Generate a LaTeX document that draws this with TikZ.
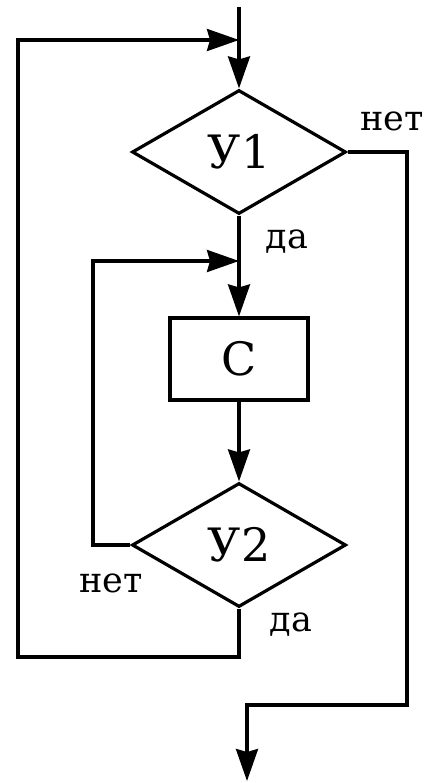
\documentclass[tikz,border=0pt]{standalone}
\usepackage{fontspec}
\setmainfont{DejaVu Serif}
\usetikzlibrary{shapes.geometric,arrows.meta}
\begin{document}
\begin{tikzpicture}[x=1pt,y=-1pt,
  line width=3.2pt,
  flow/.style={-{Stealth[length=32pt,width=22pt,inset=3pt]}},
  dec/.style={draw,diamond,minimum width=214pt,minimum height=124pt,inner sep=0pt,font=\fontsize{46}{50}\selectfont},
  proc/.style={draw,rectangle,minimum width=138pt,minimum height=82pt,inner sep=0pt,font=\fontsize{46}{50}\selectfont},
  lbl/.style={inner sep=0pt,font=\fontsize{35}{40}\selectfont}]
\useasboundingbox (0,0) rectangle (432,783);
\node[dec] (d1) at (239,152) {У1};
\node[proc] (c) at (239,359) {С};
\node[dec] (d2) at (239,545) {У2};
\coordinate (start) at (239,7);
\coordinate (top) at (239,40);
\coordinate (mid) at (239,261);
\coordinate (endp) at (247,781);
% main flow
\draw[flow] (start) -- (d1.north);
\draw[flow] (d1.south) -- (c.north);
\draw[flow] (c.south) -- (d2.north);
% outer loop (У2 да)
\coordinate (ob1) at (239,657);
\coordinate (ob2) at (18,657);
\coordinate (ob3) at (18,40);
\draw[flow] (d2.south) -- (ob1) -- (ob2) -- (ob3) -- (top);
% inner loop (У2 нет)
\coordinate (ib1) at (93,545);
\coordinate (ib2) at (93,261);
\draw[flow] (d2.west) -- (ib1) -- (ib2) -- (mid);
% exit (У1 нет)
\coordinate (e1) at (407,152);
\coordinate (e2) at (407,705);
\coordinate (e3) at (247,705);
\draw[flow] (d1.east) -- (e1) -- (e2) -- (e3) -- (endp);
% labels
\node[lbl] (l1) at (392,121) {нет};
\node[lbl] (l2) at (287,242) {да};
\node[lbl] (l3) at (111,583) {нет};
\node[lbl] (l4) at (291,625) {да};
\end{tikzpicture}
\end{document}
